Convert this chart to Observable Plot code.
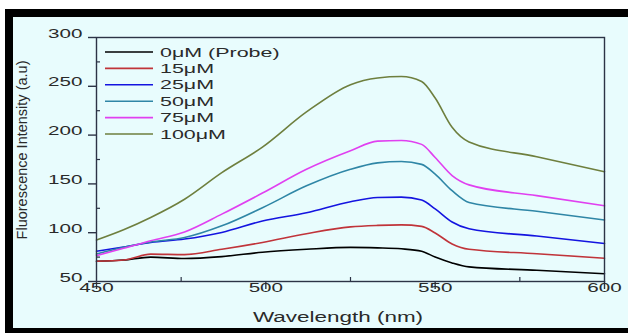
<!DOCTYPE html>
<html>
<head>
<meta charset="utf-8">
<script src="https://cdn.jsdelivr.net/npm/d3@7"></script>
<script src="https://cdn.jsdelivr.net/npm/@observablehq/plot@0.6"></script>
<style>
  body { margin: 0; background: #fff; width: 628px; height: 333px; overflow: hidden; }
  #outer { position: absolute; left: 5px; top: 9px; width: 623px; height: 324px; background: #000; }
  #inner { position: absolute; left: 13px; top: 17px; width: 615px; height: 311px; background: #e8fcfd; }
  #chart { position: absolute; left: 0; top: 0; }
</style>
</head>
<body>
<div id="outer"></div>
<div id="inner"></div>
<div id="chart"></div>
<script>
const wavelengths = [450, 458, 466, 476, 487, 499, 512, 525, 533, 540, 546, 550, 555, 560, 580, 600];
const seriesNames = ["0μM (Probe)", "15μM", "25μM", "50μM", "75μM", "100μM"];
const seriesColors = ["#000000", "#c0343a", "#1414e0", "#2f86a6", "#e040f0", "#6e7f3e"];
const probe0   = [70.7, 72, 75, 73.5, 75.5, 80, 83, 85, 84.5, 83.5, 81, 75, 69, 65, 61.5, 58];
const conc15   = [70.7, 72, 78, 77.5, 83, 90, 99, 106, 107.5, 108, 106.5, 99.7, 88.5, 83, 78.5, 73.8];
const conc25   = [81, 85.3, 90, 93.5, 100.3, 112, 120.5, 131.7, 136, 136.5, 133.5, 124.4, 111, 104, 96.6, 89];
const conc50   = [78.2, 85, 90.4, 95, 107, 125.6, 148, 165, 171.5, 173, 170, 160, 143, 131, 122, 113];
const conc75   = [76.5, 84, 91.8, 100.7, 119, 140.6, 165, 184, 193.8, 194.5, 190.5, 177, 158.5, 149, 138, 127.6];
const conc100  = [92.5, 103, 115.6, 134.3, 161.5, 187.7, 223.7, 251.7, 258.5, 260, 255, 238, 208, 193, 177.8, 162.5];
const xTicks = [450, 500, 550, 600];
const xMinor = [475, 525, 575];
const yTicks = [50, 100, 150, 200, 250, 300];
const yMinor = [75, 125, 175, 225, 275];

const allSeries = [probe0, conc15, conc25, conc50, conc75, conc100];
const rows = [];
allSeries.forEach((vals, si) => vals.forEach((v, i) => rows.push({w: wavelengths[i], v, s: seriesNames[si]})));

const frameColor = "#2c3346";
const font = "'Liberation Sans', Arial, sans-serif";

const chart = Plot.plot({
  width: 628,
  height: 333,
  marginLeft: 96,
  marginRight: 24,
  marginTop: 37,
  marginBottom: 52,
  style: {background: "transparent", fontFamily: font, color: "#2a2a2a", overflow: "visible"},
  x: {domain: [450, 600]},
  y: {domain: [50, 300]},
  color: {domain: seriesNames, range: seriesColors},
  marks: [
    Plot.line(rows, {x: "w", y: "v", z: "s", stroke: "s", strokeWidth: 1.6, curve: "monotone-x"}),
    Plot.frame({stroke: frameColor, strokeWidth: 1.4}),
    Plot.axisX({ticks: xTicks, tickSize: 8, tickPadding: 2, fontSize: 12.5, label: null, stroke: frameColor, strokeWidth: 1.4}),
    Plot.axisY({ticks: yTicks, tickSize: 8, tickPadding: 6, fontSize: 12.5, label: null, stroke: frameColor, strokeWidth: 1.4}),
    Plot.ruleX(xMinor, {x: d => d, y1: 50, y2: 50, insetTop: -4, stroke: frameColor, strokeWidth: 1.2}),
    Plot.ruleY(yMinor, {y: d => d, x1: 450, x2: 450, insetRight: -4, stroke: frameColor, strokeWidth: 1.2})
  ]
});
document.getElementById("chart").appendChild(chart);

const svg = d3.select(chart);
function stretch(sel, s) {
  sel.each(function() {
    const x = +this.getAttribute("x") || 0, y = +this.getAttribute("y") || 0;
    const t = this.getAttribute("transform") || "";
    this.removeAttribute("x"); this.removeAttribute("y");
    this.setAttribute("transform", `${t} translate(${x},${y}) scale(${s},1)`);
  });
}
stretch(svg.selectAll("text"), 1.65);

// Legend
const legend = svg.append("g").attr("text-anchor", "start");
seriesNames.forEach((name, i) => {
  const y = 52 + i * 16.4;
  legend.append("line").attr("x1", 105).attr("x2", 153).attr("y1", y).attr("y2", y)
    .attr("stroke", seriesColors[i]).attr("stroke-width", 1.6);
  legend.append("text").attr("transform", `translate(160,${y}) scale(1.65,1)`)
    .attr("text-anchor", "start")
    .attr("dy", "0.36em").attr("font-size", 13).attr("font-family", font)
    .attr("fill", "#2a2a2a").text(name);
});

// Axis titles
svg.append("text").attr("transform", "translate(338,322) scale(1.45,1)")
  .attr("text-anchor", "middle").attr("font-size", 15.5).attr("font-family", font)
  .attr("fill", "#2a2a2a").text("Wavelength (nm)");
svg.append("text").attr("transform", "translate(27,150) rotate(-90)")
  .attr("text-anchor", "middle").attr("font-size", 14.5).attr("font-family", font)
  .attr("fill", "#2a2a2a").text("Fluorescence Intensity (a.u)");
</script>
</body>
</html>
